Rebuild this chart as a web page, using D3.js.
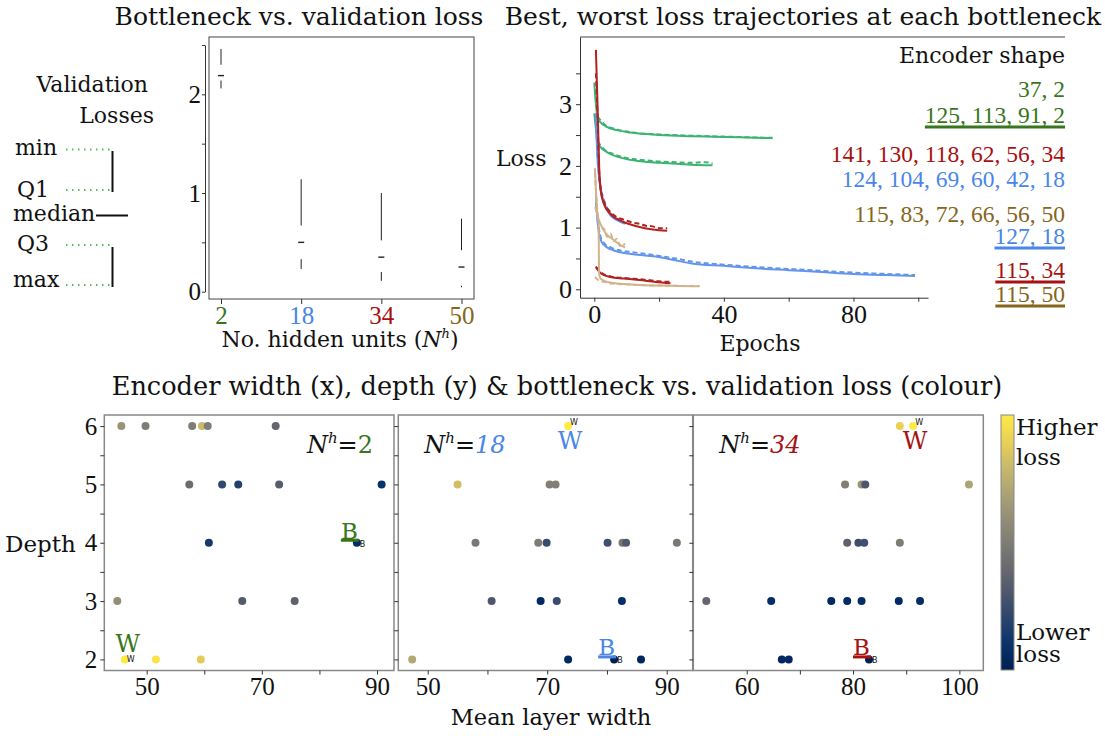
<!DOCTYPE html>
<html lang="en">
<head>
<meta charset="UTF-8">
<title>Bottleneck vs. validation loss</title>
<script src="https://d3js.org/d3.v7.min.js"></script>
<style>
  body { margin: 0; background: #fff; }
  svg text { font-family: "DejaVu Serif", serif; fill: #111; }
  svg .num, svg .tick text { font-family: "Liberation Serif", serif; }
  .axis path, .axis line { stroke: #333; }
</style>
</head>
<body>
<svg id="chart" width="1105" height="736"></svg>
<script>
// ---------------- data ----------------
const bottlenecks = ["2", "18", "34", "50"];
const textColours = ["#38761d", "#4a86e8", "#a61111", "#86661a"];
const lineColours = ["#3cb371", "#6495ed", "#b22222", "#d2b48c"];

// minimal box plot: upper segment [max, q3], median, lower segment [q1, min]
const boxUpper = [[2.46, 2.30], [1.14, 0.67], [1.00, 0.52], [0.74, 0.42]];
const boxMedian = [2.19, 0.50, 0.35, 0.25];
const boxLower = [[2.14, 2.06], [0.33, 0.23], [0.20, 0.11], [0.06, 0.045]];

// loss trajectories [epoch, loss]
const worst2Train = [[0,3.35],[0.5,3.0],[1,2.78],[2,2.70],[4,2.63],[7,2.58],[10,2.55],[15,2.52],[20,2.50],[30,2.48],[40,2.47],[50,2.455],[55,2.45]];
const worst2Val = [[1,2.80],[3,2.68],[7,2.59],[12,2.54],[20,2.51],[30,2.49],[40,2.475],[50,2.46],[55,2.455]];
const best2Train = [[0,2.85],[0.5,2.6],[1,2.38],[2,2.30],[4,2.22],[7,2.15],[10,2.11],[15,2.07],[20,2.05],[30,2.02],[36.5,2.01]];
const best2Val = [[1,2.40],[3,2.27],[6,2.19],[9,2.14],[12,2.11],[16,2.09],[20,2.07],[25,2.06],[30,2.05],[34,2.06],[36.5,2.04]];
const worst18Train = [[0.5,2.85],[1,2.1],[1.5,1.8],[2,1.6],[3,1.4],[4,1.28],[5,1.2],[7,1.12],[9.5,1.06]];
const worst18Val = [[0.5,2.75],[1,2.2],[1.5,1.85],[2,1.65],[3,1.45],[4,1.32],[5,1.24],[7,1.15],[9.5,1.08]];
const best18Train = [[0.5,1.53],[1,1.1],[1.5,0.9],[2,0.8],[3,0.72],[5,0.65],[8,0.6],[12,0.57],[19,0.53],[25,0.47],[30,0.42],[40,0.38],[50,0.34],[60,0.31],[70,0.28],[80,0.25],[90,0.23],[99,0.215]];
const best18Val = [[0.5,1.4],[1,1.15],[2,0.84],[3,0.75],[5,0.68],[8,0.63],[12,0.6],[19,0.55],[25,0.5],[30,0.45],[40,0.4],[50,0.36],[60,0.33],[70,0.3],[80,0.27],[90,0.25],[99,0.23]];
const worst34Train = [[0.5,3.88],[1,3.0],[1.5,2.0],[2,1.6],[3,1.38],[5,1.22],[7,1.14],[10,1.07],[14,1.01],[18,0.97],[22.5,0.95]];
const worst34Val = [[0.5,3.5],[1,2.8],[1.5,1.9],[2,1.62],[3,1.42],[5,1.25],[7,1.17],[9,1.13],[12,1.08],[14,1.06],[16,1.03],[18,1.02],[20,0.99],[22.5,0.99]];
const best34Train = [[0.5,0.37],[1,0.32],[2,0.26],[3,0.23],[5,0.2],[9,0.175],[14,0.15],[19,0.12],[23.5,0.10]];
const best34Val = [[0.5,0.36],[1,0.33],[3,0.24],[6,0.2],[10,0.18],[15,0.16],[20,0.13],[23.5,0.12]];
const worst50Train = [[0.2,1.96],[0.6,1.5],[1,1.2],[2,1.05],[3,0.95],[4,0.88],[6,0.8],[8,0.72],[9.5,0.68]];
const worst50Val = [[0.2,1.9],[1,1.25],[2,1.02],[3,0.98],[4,0.85],[5,0.9],[6,0.78],[7,0.82],[8,0.7],[9.5,0.74]];
const best50Train = [[0.2,1.33],[0.8,1.25],[1.3,1.1],[1.5,0.25],[2,0.17],[4,0.12],[8,0.09],[14,0.07],[20,0.06],[26,0.055],[32.5,0.05]];
const best50Val = [[0.2,0.2],[1,0.16],[3,0.12],[6,0.09],[10,0.08],[16,0.065],[22,0.06],[28,0.055],[32.5,0.055]];

// legend of encoder shapes (bottleneck index, best?)
const shapeLabels = ["37, 2", "125, 113, 91, 2", "141, 130, 118, 62, 56, 34", "124, 104, 69, 60, 42, 18",
                     "115, 83, 72, 66, 56, 50", "127, 18", "115, 34", "115, 50"];
const shapeBottleneck = [0, 0, 2, 1, 3, 1, 2, 3];
const shapeIsBest = [false, true, false, false, false, true, true, true];

// scatter: [mean layer width, depth, relative validation loss 0..1]
const scatter2 = [[45.6,6,0.62],[49.8,6,0.5],[57.9,6,0.5],[59.6,6,0.8],[60.6,6,0.5],[72.4,6,0.38],
  [57.4,5,0.42],[63.1,5,0.22],[65.9,5,0.18],[73.0,5,0.33],[90.8,5,0.1],
  [60.8,4,0.14],[86.5,4,0.07],
  [44.9,3,0.6],[66.6,3,0.32],[75.7,3,0.36],
  [46.2,2,1.0],[51.6,2,0.97],[59.4,2,0.88]];
const scatter18 = [[73.5,6,1.0],
  [55.0,5,0.82],[70.4,5,0.52],[71.4,5,0.52],
  [58.0,4,0.48],[68.5,4,0.5],[69.9,4,0.24],[80.1,4,0.26],[82.6,4,0.48],[83.2,4,0.32],[91.7,4,0.48],
  [60.7,3,0.3],[68.9,3,0.05],[71.6,3,0.24],[82.5,3,0.08],
  [47.4,2,0.72],[73.5,2,0.05],[81.2,2,0.0],[85.7,2,0.03]];
const scatter34 = [[88.8,6,0.9],[91.3,6,1.0],
  [78.5,5,0.52],[81.6,5,0.63],[82.3,5,0.3],[101.8,5,0.7],
  [78.9,4,0.36],[81.0,4,0.25],[82.1,4,0.26],[88.8,4,0.5],
  [52.4,3,0.38],[64.6,3,0.08],[75.9,3,0.05],[78.9,3,0.06],[81.6,3,0.07],[88.6,3,0.06],[92.6,3,0.08],
  [66.6,2,0.04],[67.9,2,0.04],[83.0,2,0.0]];
const bestPoint = [[86.5,4],[81.2,2],[83.0,2]];
const worstPoint = [[46.2,2],[73.5,6],[91.3,6]];

const widthTicks = [[50, 60, 70, 80, 90], [50, 60, 70, 80, 90], [60, 70, 80, 90, 100]];

// ---------------- drawing ----------------
const svg = d3.select("#chart");

function title(x, y, t, size) {
  svg.append("text").attr("x", x).attr("y", y).attr("text-anchor", "middle")
    .style("font-size", size + "px").text(t);
}
title(299, 25, "Bottleneck vs. validation loss", 25);
title(803, 25, "Best, worst loss trajectories at each bottleneck", 25);
title(557, 395, "Encoder width (x), depth (y) & bottleneck vs. validation loss (colour)", 25.6);

// ---- legend of box glyph
const lg = svg.append("g").style("font-size", "22px");
lg.append("text").attr("x", 148).attr("y", 92).attr("text-anchor", "end").text("Validation");
lg.append("text").attr("x", 154).attr("y", 123).attr("text-anchor", "end").text("Losses");
[["min", 15, 155, 149.5], ["Q1", 17, 197, 190], ["Q3", 17, 251, 245], ["max", 13, 287, 285]].forEach(d => {
  lg.append("text").attr("x", d[1]).attr("y", d[2]).text(d[0]);
  lg.append("line").attr("x1", 66).attr("x2", 113).attr("y1", d[3]).attr("y2", d[3])
    .attr("stroke", "#5cb85c").attr("stroke-width", 2).attr("stroke-dasharray", "1.5,4.5");
});
lg.append("text").attr("x", 13).attr("y", 221).text("median");
lg.append("line").attr("x1", 96).attr("x2", 128).attr("y1", 215.5).attr("y2", 215.5).attr("stroke", "#111").attr("stroke-width", 2);
lg.append("line").attr("x1", 112.5).attr("x2", 112.5).attr("y1", 151).attr("y2", 192).attr("stroke", "#111").attr("stroke-width", 2);
lg.append("line").attr("x1", 112.5).attr("x2", 112.5).attr("y1", 247).attr("y2", 287).attr("stroke", "#111").attr("stroke-width", 2);

// ---- box panel
const xBox = d3.scalePoint().domain(bottlenecks).range([221, 461.5]);
const yBox = d3.scaleLinear().domain([0, 2.5]).range([291.7, 45]);

svg.append("rect").attr("x", 209).attr("y", 37).attr("width", 265).attr("height", 262)
  .attr("fill", "none").attr("stroke", "#444");

svg.append("g").attr("class", "axis").attr("transform", "translate(205,0)")
  .call(d3.axisLeft(yBox).tickValues(d3.range(0, 2.51, 0.5)).tickFormat(d => d % 1 === 0 ? d : "")
    .tickSize(3).tickSizeOuter(0).tickPadding(1))
  .selectAll("text").style("font-size", "25px");

const bx = svg.append("g").attr("class", "axis").attr("transform", "translate(0,299)")
  .call(d3.axisBottom(xBox).tickSize(5).tickSizeOuter(0).tickPadding(2));
bx.select(".domain").remove();
bx.selectAll("text").style("font-size", "25px").style("fill", (d, i) => textColours[i]);

bottlenecks.forEach((b, i) => {
  const x = xBox(b);
  svg.append("line").attr("x1", x).attr("x2", x).attr("y1", yBox(boxUpper[i][0])).attr("y2", yBox(boxUpper[i][1]))
    .attr("stroke", "#222");
  svg.append("line").attr("x1", x - 3).attr("x2", x + 3).attr("y1", yBox(boxMedian[i])).attr("y2", yBox(boxMedian[i]))
    .attr("stroke", "#222").attr("stroke-width", 1.4);
  svg.append("line").attr("x1", x).attr("x2", x).attr("y1", yBox(boxLower[i][0])).attr("y2", yBox(boxLower[i][1]))
    .attr("stroke", "#222");
});

const xl = svg.append("text").attr("x", 340).attr("y", 347).attr("text-anchor", "middle").style("font-size", "22px");
xl.append("tspan").text("No. hidden units (");
xl.append("tspan").style("font-style", "italic").text("N");
xl.append("tspan").style("font-style", "italic").style("font-size", "13px").attr("dy", -9).text("h");
xl.append("tspan").attr("dy", 9).text(")");

// ---- loss trajectories panel
const xLoss = d3.scaleLinear().domain([-4.41, 103]).range([580, 928]);
const yLoss = d3.scaleLinear().domain([-0.136, 4.089]).range([297.7, 37]);

svg.append("line").attr("x1", 580).attr("x2", 1065).attr("y1", 37).attr("y2", 37).attr("stroke", "#444");
svg.append("g").attr("class", "axis").attr("transform", "translate(580,0)")
  .call(d3.axisLeft(yLoss).tickValues(d3.range(0, 3.51, 0.5)).tickFormat(d => d % 1 === 0 ? d : "")
    .tickSize(4).tickSizeOuter(0).tickPadding(4))
  .selectAll("text").style("font-size", "26px");
svg.append("g").attr("class", "axis").attr("transform", "translate(0,297.7)")
  .call(d3.axisBottom(xLoss).tickValues(d3.range(0, 101, 20)).tickFormat(d => d % 40 === 0 ? d : "")
    .tickSize(4).tickSizeOuter(0))
  .selectAll("text").style("font-size", "26px");

svg.append("text").attr("x", 496).attr("y", 166).style("font-size", "22px").text("Loss");
svg.append("text").attr("x", 760).attr("y", 351).attr("text-anchor", "middle").style("font-size", "22px").text("Epochs");

const lossLine = d3.line().x(d => xLoss(d[0])).y(d => yLoss(d[1])).curve(d3.curveMonotoneX);
const runs = [
  [worst2Train, worst2Val, 0], [best2Train, best2Val, 0],
  [worst18Train, worst18Val, 1], [best18Train, best18Val, 1],
  [worst34Train, worst34Val, 2], [best34Train, best34Val, 2],
  [worst50Train, worst50Val, 3], [best50Train, best50Val, 3]
];
runs.forEach(r => {
  svg.append("path").attr("d", lossLine(r[0])).attr("fill", "none")
    .attr("stroke", lineColours[r[2]]).attr("stroke-width", 2);
  svg.append("path").attr("d", lossLine(r[1])).attr("fill", "none")
    .attr("stroke", lineColours[r[2]]).attr("stroke-width", 2).attr("stroke-dasharray", "5,3");
});

// legend of encoder shapes
svg.append("text").attr("x", 1065).attr("y", 63).attr("text-anchor", "end").style("font-size", "22px").text("Encoder shape");
const shapeY = [97, 123, 162, 187, 222, 244, 278, 302];
shapeLabels.forEach((s, i) => {
  const t = svg.append("text").attr("class", "num").attr("x", 1065).attr("y", shapeY[i])
    .attr("text-anchor", "end").style("font-size", "23.5px")
    .style("fill", textColours[shapeBottleneck[i]]).text(s);
  if (shapeIsBest[i]) {
    const w = t.node().getComputedTextLength();
    svg.append("rect").attr("x", 1065 - w).attr("y", shapeY[i] + 2.5).attr("width", w).attr("height", 3)
      .attr("fill", textColours[shapeBottleneck[i]]);
  }
});

// ---- scatter panels
const colour = d3.scaleSequential(d3.interpolateCividis).domain([0, 1]);
const yDepth = d3.scaleLinear().domain([1.81, 6.19]).range([670.5, 415]);
const panels = [
  {data: scatter2, left: 104.3, right: 394, domain: [42.64, 92.95]},
  {data: scatter18, left: 398.3, right: 692.7, domain: [45.08, 94.35]},
  {data: scatter34, left: 693.3, right: 983.3, domain: [49.95, 104.5]}
];

panels.forEach((p, k) => {
  const x = d3.scaleLinear().domain(p.domain).range([p.left, p.right]);
  const g = svg.append("g");
  g.append("rect").attr("x", p.left).attr("y", 415).attr("width", p.right - p.left).attr("height", 255.5)
    .attr("fill", "none").attr("stroke", "#888").attr("stroke-width", 1.5);

  const ya = g.append("g").attr("class", "axis").attr("transform", `translate(${p.left},0)`)
    .call(d3.axisLeft(yDepth).tickValues(d3.range(2, 6.01, 0.5))
      .tickFormat(d => (k === 0 && d % 1 === 0) ? d : "").tickSize(4));
  ya.select(".domain").remove();
  ya.selectAll("text").style("font-size", "25px");

  const xa = g.append("g").attr("class", "axis").attr("transform", "translate(0,670.5)")
    .call(d3.axisBottom(x).tickValues(widthTicks[k]).tickFormat((d, i) => i % 2 === 0 ? d : "").tickSize(4));
  xa.select(".domain").remove();
  xa.selectAll("text").style("font-size", "25px");

  g.selectAll("circle").data(p.data).enter().append("circle")
    .attr("cx", d => x(d[0])).attr("cy", d => yDepth(d[1])).attr("r", 4)
    .attr("fill", d => colour(d[2]));

  // best marker
  const bx0 = x(bestPoint[k][0]), by0 = yDepth(bestPoint[k][1]);
  g.append("text").attr("x", bx0 + 1).attr("y", by0 - 4).attr("text-anchor", "end")
    .style("font-size", "23px").style("fill", textColours[k]).text("B");
  g.append("rect").attr("x", bx0 - 16).attr("y", by0 - 4).attr("width", 18).attr("height", 3).attr("fill", textColours[k]);
  g.append("text").attr("x", bx0 + 3).attr("y", by0 + 4).style("font-family", "DejaVu Sans")
    .style("font-size", "8px").text("B");

  // worst marker
  const wx0 = x(worstPoint[k][0]), wy0 = yDepth(worstPoint[k][1]);
  const below = worstPoint[k][1] === 6;
  g.append("text").attr("x", wx0 + (below ? 2 : 3)).attr("y", below ? wy0 + 23 : wy0 - 7).attr("text-anchor", "middle")
    .style("font-size", "24px").style("fill", textColours[k]).text("W");
  g.append("text").attr("x", wx0 + 2).attr("y", below ? wy0 - 1 : wy0 + 3).style("font-family", "DejaVu Sans")
    .style("font-size", "8px").text("W");

  // N^h label
  const nl = g.append("text").style("font-size", "24px");
  if (k === 0) nl.attr("x", 373).attr("y", 453).attr("text-anchor", "end");
  else nl.attr("x", p.left + 26).attr("y", 453);
  nl.append("tspan").style("font-style", "italic").text("N");
  nl.append("tspan").style("font-style", "italic").style("font-size", "15px").attr("dy", -10).text("h");
  nl.append("tspan").attr("dy", 10).text("=");
  nl.append("tspan").style("fill", textColours[k]).style("font-style", k === 0 ? "normal" : "italic").text(bottlenecks[k]);
});

svg.append("text").attr("x", 5).attr("y", 552).style("font-size", "23px").text("Depth");
svg.append("text").attr("x", 551).attr("y", 725).attr("text-anchor", "middle").style("font-size", "22.5px").text("Mean layer width");

// ---- colour bar
const defs = svg.append("defs");
const grad = defs.append("linearGradient").attr("id", "cbar").attr("x1", 0).attr("y1", 1).attr("x2", 0).attr("y2", 0);
d3.range(0, 1.001, 0.1).forEach(t => {
  grad.append("stop").attr("offset", t).attr("stop-color", d3.interpolateCividis(t));
});
svg.append("rect").attr("x", 1001).attr("y", 415).attr("width", 13).attr("height", 255)
  .attr("fill", "url(#cbar)").attr("stroke", "#888");
const cb = svg.append("g").style("font-size", "23px");
cb.append("text").attr("x", 1016).attr("y", 435).text("Higher");
cb.append("text").attr("x", 1016).attr("y", 465).text("loss");
cb.append("text").attr("x", 1016).attr("y", 640).text("Lower");
cb.append("text").attr("x", 1016).attr("y", 662).text("loss");
</script>
</body>
</html>
